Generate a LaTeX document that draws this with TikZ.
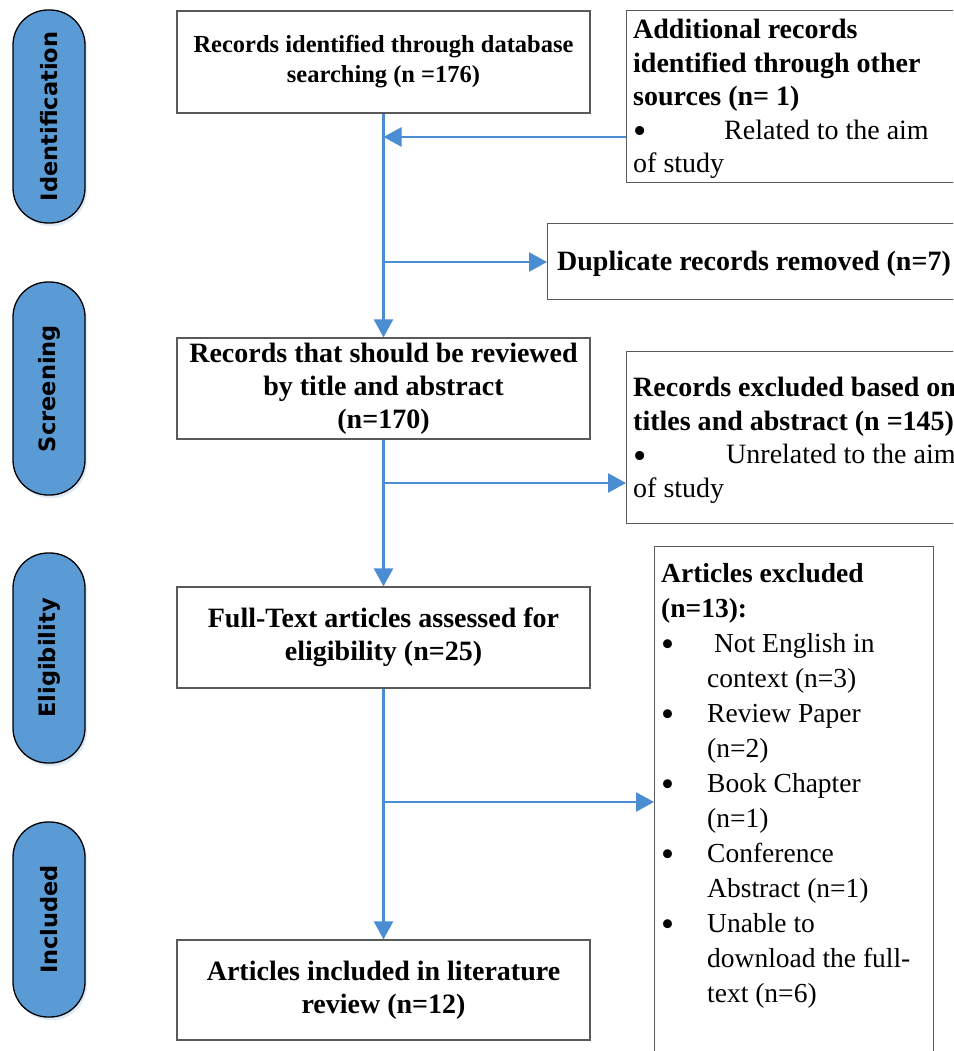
\documentclass[tikz,border=0pt]{standalone}
\usepackage{fontspec}
\setmainfont{Liberation Serif}
\newfontfamily\pillfont{DejaVu Sans}
\usetikzlibrary{arrows.meta,shadows}
\definecolor{pillblue}{RGB}{91,155,213}
\definecolor{arrowblue}{RGB}{74,141,211}
\definecolor{boxgray}{RGB}{90,90,90}
\newcommand{\bul}{\raisebox{-4.5pt}{\scalebox{1.35}{\textbullet}}}
\tikzset{
  pill/.style={draw=black, line width=1.3pt, fill=pillblue, rounded corners=35pt,
    minimum height=72pt, rotate=90, inner sep=0pt,
    font=\pillfont\bfseries\fontsize{22.5}{26}\selectfont,
    drop shadow={shadow xshift=2pt, shadow yshift=-3pt, fill=pillblue!25, opacity=0.8}},
  mainbox/.style={draw=boxgray, line width=1.2pt, minimum width=413pt, align=center,
    font=\bfseries\fontsize{28}{33}\selectfont, inner sep=0pt},
  sidebox/.style={draw=boxgray, line width=1.2pt, anchor=north west, inner sep=0pt},
  sidetext/.style={anchor=north west, align=left, inner sep=0pt, font=\fontsize{28}{33.5}\selectfont},
  flow/.style={draw=arrowblue, line width=2.4pt},
  tip/.style={-{Triangle[length=18pt,width=19pt]}},
}
\begin{document}
\begin{tikzpicture}[x=1pt,y=-1pt]
\useasboundingbox (0,0) rectangle (953,1051);
\clip (0,0) rectangle (953,1051);
\fill[white] (0,0) rectangle (953,1051);

% phase pills
\node[pill, minimum width=213pt] (p1) at (49,116.5) {Identification};
\node[pill, minimum width=213pt] (p2) at (49,388.5) {Screening};
\node[pill, minimum width=210pt] (p3) at (49,658) {Eligibility};
\node[pill, minimum width=195pt] (p4) at (49,919.5) {Included};

% main boxes
\node[mainbox, minimum height=102pt, font=\bfseries\fontsize{24.5}{30}\selectfont] (b1) at (383.5,62)
  {Records identified through database\\searching (n =176)};
\node[mainbox, minimum height=101pt] (b2) at (383.5,388.5)
  {Records that should be reviewed\\by title and abstract\\(n=170)};
\node[mainbox, minimum height=101pt] (b3) at (383.5,637.5)
  {Full-Text articles assessed for\\eligibility (n=25)};
\node[mainbox, minimum height=100pt] (b4) at (383.5,990)
  {Articles included in literature\\review (n=12)};

% side boxes
\node[sidebox, minimum width=340pt, minimum height=172pt] (s1) at (626,10) {};
\node[sidetext] (t1) at (633,19)
  {\textbf{Additional records}\\\textbf{identified through other}\\\textbf{sources (n= 1)}\\
   \makebox[91pt][l]{\bul}Related to the aim\\of study};

\node[sidebox, minimum width=420pt, minimum height=76pt] (s2) at (547,223) {};
\node[anchor=west, inner sep=0pt, font=\bfseries\fontsize{28}{33}\selectfont] (t2) at (557,264)
  {Duplicate records removed (n=7)};

\node[sidebox, minimum width=340pt, minimum height=172pt] (s3) at (626,351) {};
\node[sidetext] (t3) at (633,377)
  {\textbf{Records excluded based on}\\\textbf{titles and abstract (n =145)}\\
   \makebox[93pt][l]{\bul}Unrelated to the aim\\of study};

\node[sidebox, minimum width=279pt, minimum height=560pt] (s4) at (654,546) {};
\node[sidetext, font=\fontsize{27.5}{35}\selectfont] (t4) at (661,563)
  {\textbf{Articles excluded}\\\textbf{(n=13):}\\
   \makebox[46pt][l]{\bul}\ Not English in\\\hspace*{46pt}context (n=3)\\
   \makebox[46pt][l]{\bul}Review Paper\\\hspace*{46pt}(n=2)\\
   \makebox[46pt][l]{\bul}Book Chapter\\\hspace*{46pt}(n=1)\\
   \makebox[46pt][l]{\bul}Conference\\\hspace*{46pt}Abstract (n=1)\\
   \makebox[46pt][l]{\bul}Unable to\\\hspace*{46pt}download the full-\\\hspace*{46pt}text (n=6)};

% junction coordinates
\coordinate (j1) at (383.5,137);
\coordinate (j2) at (383.5,262);
\coordinate (j3) at (383.5,483);
\coordinate (j4) at (383.5,802);

% connectors
\draw[flow, tip] (b1.south) -- (b2.north);
\draw[flow, tip] (s1.west |- j1) -- (j1);
\draw[flow, tip] (j2) -- (s2.west |- j2);
\draw[flow, tip] (b2.south) -- (b3.north);
\draw[flow, tip] (j3) -- (s3.west |- j3);
\draw[flow, tip] (b3.south) -- (b4.north);
\draw[flow, tip] (j4) -- (s4.west |- j4);
\end{tikzpicture}
\end{document}
